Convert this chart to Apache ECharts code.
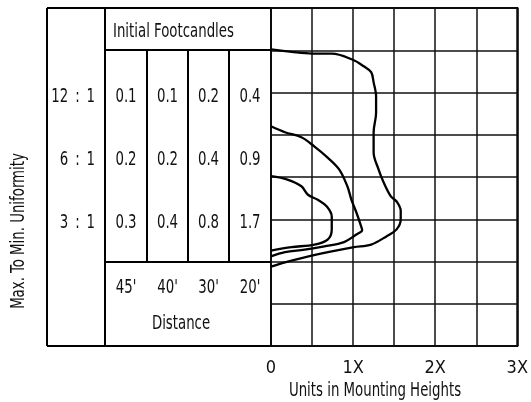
<!DOCTYPE html>
<html>
<head>
<meta charset="utf-8">
<script src="https://cdn.jsdelivr.net/npm/echarts@6/dist/echarts.min.js"></script>
<style>
html,body{margin:0;padding:0;background:#fff;}
#chart{width:531px;height:402px;}
</style>
</head>
<body>
<div id="chart"></div>
<script>
// ---- data ----
const ratios = ['12 : 1', '6 : 1', '3 : 1'];
const distances = ["45'", "40'", "30'", "20'"];
const fc12to1 = [0.1, 0.1, 0.2, 0.4];
const fc6to1 = [0.2, 0.2, 0.4, 0.9];
const fc3to1 = [0.3, 0.4, 0.8, 1.7];
const xTickLabels = ['0', '1X', '2X', '3X'];
const contourOuter = [
  [0, 2.51], [0.25, 2.48], [0.5, 2.46], [0.74, 2.46], [0.99, 2.39], [1.13, 2.31], [1.22, 2.24],
  [1.25, 2.12], [1.28, 1.95], [1.28, 1.76], [1.25, 1.53], [1.25, 1.29], [1.31, 1.09],
  [1.37, 0.94], [1.46, 0.77], [1.53, 0.71], [1.58, 0.6], [1.58, 0.5], [1.53, 0.38],
  [1.41, 0.3], [1.22, 0.2], [1.01, 0.17], [0.74, 0.12], [0.41, 0.05], [0.17, -0.01], [0, -0.06]
];
const contourMiddle = [
  [0, 1.6], [0.17, 1.53], [0.37, 1.47], [0.53, 1.36], [0.69, 1.23], [0.83, 1.09],
  [0.93, 0.89], [0.98, 0.73], [1.04, 0.58], [1.1, 0.41], [1.11, 0.37], [1.04, 0.32],
  [0.89, 0.23], [0.65, 0.18], [0.41, 0.14], [0.17, 0.11], [0, 0.06]
];
const contourInner = [
  [0, 1.01], [0.2, 0.97], [0.37, 0.89], [0.45, 0.79], [0.57, 0.73], [0.68, 0.65],
  [0.74, 0.53], [0.74, 0.38], [0.69, 0.26], [0.53, 0.2], [0.25, 0.17], [0, 0.13]
];
const fcRows = [fc12to1, fc6to1, fc3to1];

// ---- layout ----
const FONT = '"DejaVu Sans Condensed", "DejaVu Sans", sans-serif';
const FS = 20;
const SX = 0.74;
const PLOT = { left: 271, top: 8, width: 249, height: 338 };
const TBL_LEFT = 47, RATIO_RIGHT = 105;
const COL_X = [105, 147, 188, 229, 271];
const HEAD_Y = 50, DIST_Y = 262, BOTTOM = PLOT.top + PLOT.height;
const ROW_Y = [97, 160, 223];
const LW = 2;

const chart = echarts.init(document.getElementById('chart'));
const g = [];
function ln(x1, y1, x2, y2) {
  g.push({ type: 'line', shape: { x1, y1, x2, y2 }, style: { stroke: '#000', lineWidth: LW }, z: 10 });
}
function tx(text, x, y, align, extra) {
  g.push(Object.assign({
    type: 'text', x, y, scaleX: SX,
    style: { text, fill: '#111', font: FS + 'px ' + FONT, textAlign: align || 'center', textVerticalAlign: 'middle' },
    z: 10
  }, extra || {}));
}
// table frame
ln(TBL_LEFT, PLOT.top, PLOT.left, PLOT.top);
ln(TBL_LEFT, BOTTOM, PLOT.left, BOTTOM);
ln(TBL_LEFT, PLOT.top, TBL_LEFT, BOTTOM);
ln(RATIO_RIGHT, PLOT.top, RATIO_RIGHT, BOTTOM);
ln(RATIO_RIGHT, HEAD_Y, PLOT.left, HEAD_Y);
ln(RATIO_RIGHT, DIST_Y, PLOT.left, DIST_Y);
for (let i = 1; i < 4; i++) ln(COL_X[i], HEAD_Y, COL_X[i], DIST_Y);
// texts
tx('Initial Footcandles', 113, 32, 'left');
tx('Distance', 181, 324);
ratios.forEach((r, i) => tx(r.replace(/ /g, '\u2009 '), 95, ROW_Y[i], 'right'));
fcRows.forEach((row, i) => row.forEach((v, j) => tx(v.toFixed(1), (COL_X[j] + COL_X[j + 1]) / 2, ROW_Y[i])));
distances.forEach((d, j) => tx(d, (COL_X[j] + COL_X[j + 1]) / 2, 288));
tx('Max. To Min. Uniformity', 19, 231, 'center', { rotation: Math.PI / 2 });
tx('Units in Mounting Heights', 375, 391);

function contour(data) {
  return {
    type: 'line', data, smooth: 0.35, symbol: 'none', clip: false,
    lineStyle: { color: '#000', width: 2.3 }, z: 5
  };
}

chart.setOption({
  animation: false,
  backgroundColor: '#fff',
  grid: { left: PLOT.left, top: PLOT.top, width: PLOT.width, height: PLOT.height,
    show: true, borderColor: '#000', borderWidth: LW, containLabel: false },
  xAxis: {
    type: 'value', min: 0, max: 3, interval: 0.5,
    axisLine: { show: false }, axisTick: { show: false },
    splitLine: { show: true, lineStyle: { color: '#111', width: 1.5 } },
    axisLabel: {
      margin: 13, color: '#111', fontSize: 18, fontFamily: FONT,
      formatter: v => (Math.abs(v - Math.round(v)) < 1e-6 ? xTickLabels[Math.round(v)] : '')
    }
  },
  yAxis: {
    type: 'value', min: -1, max: 3, interval: 0.5,
    axisLine: { show: false }, axisTick: { show: false }, axisLabel: { show: false },
    splitLine: { show: true, lineStyle: { color: '#111', width: 1.5 } }
  },
  series: [contour(contourOuter), contour(contourMiddle), contour(contourInner)],
  graphic: g
});
</script>
</body>
</html>
